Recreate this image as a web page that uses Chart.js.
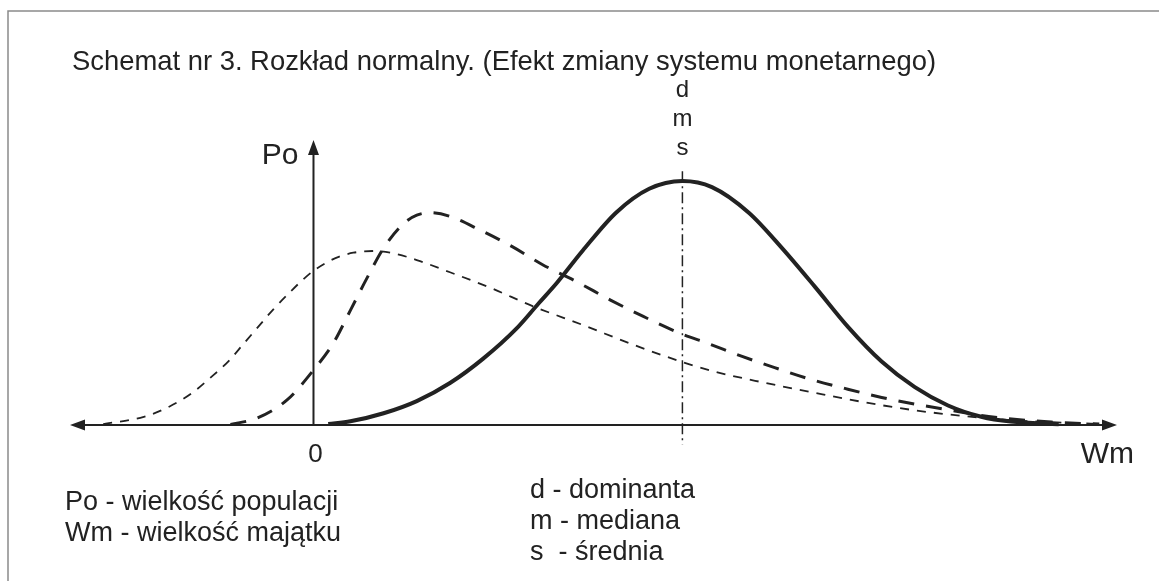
<!DOCTYPE html>
<html lang="pl">
<head>
    <meta charset="UTF-8">
    <title>Schemat nr 3</title>
    <script src="https://cdn.jsdelivr.net/npm/chart.js"></script>
    <style>
        body { margin: 0; background: #fff; }
        .chart-container { width: 1159px; height: 581px; }
    </style>
</head>
<body>
    <div class="chart-container">
        <canvas id="schemat" width="1159" height="581"></canvas>
    </div>

    <script>
        // Krzywa ciągła (po zmianie)
        const solidX = [0.4, 1.0, 1.9, 2.8, 3.7, 4.6, 5.5, 6.1, 6.6, 7.3, 8.2, 9.1, 10, 10.8, 11.8, 12.7, 13.6, 14.5, 15.4, 16.3, 17.2, 18.1, 18.9, 20.2];
        const solidY = [0.4, 1.5, 4.8, 9.8, 17.2, 27.2, 39.5, 49.8, 58.3, 71.5, 87, 96.8, 100, 97.5, 87, 72.5, 56.5, 40, 26, 15.5, 8, 3.4, 1.4, 0.3];

        // Krzywa z długą przerywaną linią
        const longX = [-2.25, -1.5, -0.7, 0, 0.54, 1.0, 1.46, 1.9, 2.44, 2.8, 3.17, 3.7, 4.5, 5.4, 6.2, 7.15, 8.05, 8.94, 10, 10.7, 11.6, 12.5, 13.5, 14.4, 15.4, 16.4, 17.3, 18.3, 20, 21.3];
        const longY = [0.2, 3, 10.5, 22.5, 33.6, 47, 60.5, 72.5, 82.5, 86, 87, 85.5, 80, 73, 65.8, 58.6, 51.2, 44.5, 37.2, 33.4, 28.2, 23.5, 18.6, 15, 11.3, 8.3, 6, 3.5, 1.2, 0.4];

        // Krzywa z krótką przerywaną linią
        const shortX = [-5.7, -4.6, -3.9, -3.3, -2.8, -2.3, -1.9, -1.5, -1.1, -0.6, -0.3, 0, 0.38, 0.7, 1.08, 1.6, 2.1, 2.82, 3.7, 4.8, 5.96, 7.3, 8.67, 10, 10.95, 12.2, 13.55, 14.9, 16.26, 17.6, 18.9, 21.3];
        const shortY = [0.4, 3.3, 7.6, 13, 19.3, 26.2, 33.2, 40.2, 47.2, 55, 59.4, 63.2, 66.8, 69, 70.6, 71.3, 70.6, 67.5, 62.6, 56.2, 48.6, 41, 32.9, 25.8, 21.6, 17.4, 13.3, 9.4, 6.1, 3.7, 2, 0.4];

        // Zakres osi i położenie d/m/s
        const axisX = [-6.6, 21.78];
        const axisY = [0, 116.8];
        const dmsX = 10;
        const dmsLine = [104, -8];

        const title = 'Schemat nr 3. Rozkład normalny. (Efekt zmiany systemu monetarnego)';
        const legendLeft = ['Po - wielkość populacji', 'Wm - wielkość majątku'];
        const legendMid = ['d - dominanta', 'm - mediana', 's  - średnia'];
        const dmsLabels = ['d', 'm', 's'];

        const ink = '#222';
        const font = "'Liberation Sans', Arial, sans-serif";

        function zip(xs, ys) {
            return xs.map((x, i) => ({ x: x, y: ys[i] }));
        }

        // Rysowanie ramki, osi ze strzałkami i napisów
        const schematPlugin = {
            id: 'schemat',
            beforeDatasetsDraw(chart) {
                const ctx = chart.ctx;
                const xs = chart.scales.x;
                const ys = chart.scales.y;
                const x0 = xs.getPixelForValue(0);
                const y0 = ys.getPixelForValue(0);

                ctx.save();
                // ramka
                ctx.strokeStyle = '#8a8a8a';
                ctx.lineWidth = 1.5;
                ctx.beginPath();
                ctx.moveTo(8, 581);
                ctx.lineTo(8, 11);
                ctx.lineTo(1159, 11);
                ctx.stroke();

                // linia d/m/s (kreska-kropka)
                const xm = xs.getPixelForValue(dmsX);
                ctx.strokeStyle = ink;
                ctx.lineWidth = 1.5;
                ctx.setLineDash([11, 4, 2, 4]);
                ctx.beginPath();
                ctx.moveTo(xm, ys.getPixelForValue(dmsLine[0]));
                ctx.lineTo(xm, ys.getPixelForValue(dmsLine[1]));
                ctx.stroke();
                ctx.setLineDash([]);

                // osie
                const left = xs.getPixelForValue(axisX[0]);
                const right = xs.getPixelForValue(axisX[1]);
                const top = ys.getPixelForValue(axisY[1]);
                ctx.lineWidth = 2;
                ctx.beginPath();
                ctx.moveTo(left + 6, y0);
                ctx.lineTo(right - 6, y0);
                ctx.moveTo(x0, y0);
                ctx.lineTo(x0, top + 6);
                ctx.stroke();

                ctx.fillStyle = ink;
                ctx.beginPath();
                ctx.moveTo(left, y0);
                ctx.lineTo(left + 15, y0 - 5.5);
                ctx.lineTo(left + 15, y0 + 5.5);
                ctx.closePath();
                ctx.moveTo(right, y0);
                ctx.lineTo(right - 15, y0 - 5.5);
                ctx.lineTo(right - 15, y0 + 5.5);
                ctx.closePath();
                ctx.moveTo(x0, top);
                ctx.lineTo(x0 - 5.5, top + 15);
                ctx.lineTo(x0 + 5.5, top + 15);
                ctx.closePath();
                ctx.fill();

                // napisy
                ctx.textBaseline = 'alphabetic';
                ctx.font = '27.4px ' + font;
                ctx.textAlign = 'left';
                ctx.fillText(title, 72, 70);

                ctx.font = '30px ' + font;
                ctx.textAlign = 'right';
                ctx.fillText('Po', x0 - 15, 164);
                ctx.fillText('Wm', 1134, 463);
                ctx.font = '26px ' + font;
                ctx.textAlign = 'center';
                ctx.fillText('0', x0 + 2, 462);

                ctx.font = '24px ' + font;
                dmsLabels.forEach((t, i) => ctx.fillText(t, xm, 97 + i * 29));

                ctx.font = '27px ' + font;
                ctx.textAlign = 'left';
                legendLeft.forEach((t, i) => ctx.fillText(t, 65, 510 + i * 31));
                legendMid.forEach((t, i) => ctx.fillText(t, 530, 498 + i * 31));
                ctx.restore();
            }
        };

        const ctx = document.getElementById('schemat').getContext('2d');
        new Chart(ctx, {
            type: 'line',
            data: {
                datasets: [
                    {
                        label: 'po zmianie',
                        data: zip(solidX, solidY),
                        borderColor: ink,
                        borderWidth: 4,
                        pointRadius: 0,
                        cubicInterpolationMode: 'monotone',
                        clip: false
                    },
                    {
                        label: 'etap pośredni',
                        data: zip(longX, longY),
                        borderColor: ink,
                        borderWidth: 3,
                        borderDash: [16, 12],
                        pointRadius: 0,
                        cubicInterpolationMode: 'monotone',
                        clip: false
                    },
                    {
                        label: 'przed zmianą',
                        data: zip(shortX, shortY),
                        borderColor: ink,
                        borderWidth: 1.8,
                        borderDash: [9, 8],
                        pointRadius: 0,
                        cubicInterpolationMode: 'monotone',
                        clip: false
                    }
                ]
            },
            options: {
                responsive: false,
                animation: false,
                layout: {
                    padding: { left: 70, right: 42, top: 140, bottom: 156 }
                },
                plugins: {
                    legend: { display: false },
                    tooltip: { enabled: false }
                },
                scales: {
                    x: { type: 'linear', display: false, min: axisX[0], max: axisX[1] },
                    y: { display: false, min: axisY[0], max: axisY[1] }
                }
            },
            plugins: [schematPlugin]
        });
    </script>
</body>
</html>
